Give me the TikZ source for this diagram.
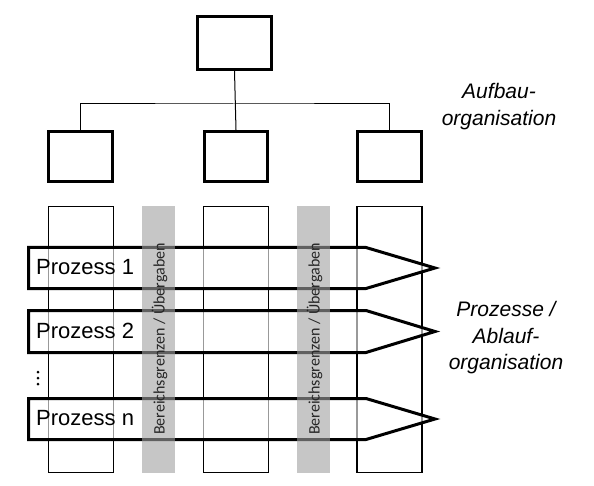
\documentclass[tikz,border=0pt]{standalone}
\usepackage{fontspec}
\setmainfont{Liberation Sans}
\newfontfamily\bandfont{Carlito}
\usetikzlibrary{positioning}

\begin{document}
\begin{tikzpicture}[x=1pt,y=-1pt,
  orgbox/.style={draw,line width=2.6pt,inner sep=0pt,minimum width=63.5pt,minimum height=50.5pt},
  lane/.style={draw,line width=1.1pt,inner sep=0pt,minimum width=65pt,minimum height=266pt},
  band/.style={fill=black!37,fill opacity=0.6,inner sep=0pt,minimum width=33pt,minimum height=267pt},
  bandtext/.style={rotate=90,text=black!85,font=\bandfont\fontsize{16}{16}\selectfont},
  proc/.style={draw,fill=white,fill opacity=0.6,line width=3pt,line join=miter},
  plabel/.style={anchor=base west,inner sep=0pt,font=\fontsize{22}{22}\selectfont},
  side/.style={align=center,font=\itshape\fontsize{21}{26.5}\selectfont}]

  \useasboundingbox[fill=white] (0,0) rectangle (594,486);

  % Aufbauorganisation
  \node[orgbox,minimum width=74.5pt,minimum height=53.5pt] (top) at (234.5,43) {};
  \node[orgbox] (left) at (80.5,156.5) {};
  \node[orgbox] (mid) at (236,156.5) {};
  \node[orgbox] (right) at (389.5,156.5) {};
  \coordinate (bus) at (234.5,104);

  \draw[line width=1pt] (top.south) -- (mid.north);
  \draw[line width=1pt] (left.north) |- (bus) -| (right.north);

  \node[side] (aufbau) at (499,106.5) {Aufbau-\\organisation};

  % Bereiche
  \node[lane] (lane1) at (81,339.5) {};
  \node[lane] (lane2) at (236,339.5) {};
  \node[lane] (lane3) at (389.5,339.5) {};

  % Prozesse
  \draw[proc] (28.5,247.5) -- (366,247.5) -- (435,268) -- (366,288.5) -- (28.5,288.5) -- cycle;
  \draw[proc] (28.5,310.5) -- (366,310.5) -- (435,331.5) -- (366,352.5) -- (28.5,352.5) -- cycle;
  \draw[proc] (28.5,398.5) -- (366,398.5) -- (435,419) -- (366,439.5) -- (28.5,439.5) -- cycle;

  % Bereichsgrenzen
  \node[band] (band1) at (158.5,339.5) {};
  \node[band] (band2) at (313.5,339.5) {};
  \node[bandtext] (btext1) at (159.5,339) {Bereichsgrenzen / Übergaben};
  \node[bandtext] (btext2) at (314.5,339) {Bereichsgrenzen / Übergaben};

  \node[plabel] (p1) at (36,274.5) {Prozess 1};
  \node[plabel] (p2) at (36,338) {Prozess 2};
  \node[plabel] (pn) at (36,425.5) {Prozess n};
  \foreach \y in {372,378,384}
    \fill (38,\y) circle (1.5pt);

  \node[side] (ablauf) at (506,338) {Prozesse /\\Ablauf-\\organisation};
\end{tikzpicture}
\end{document}
